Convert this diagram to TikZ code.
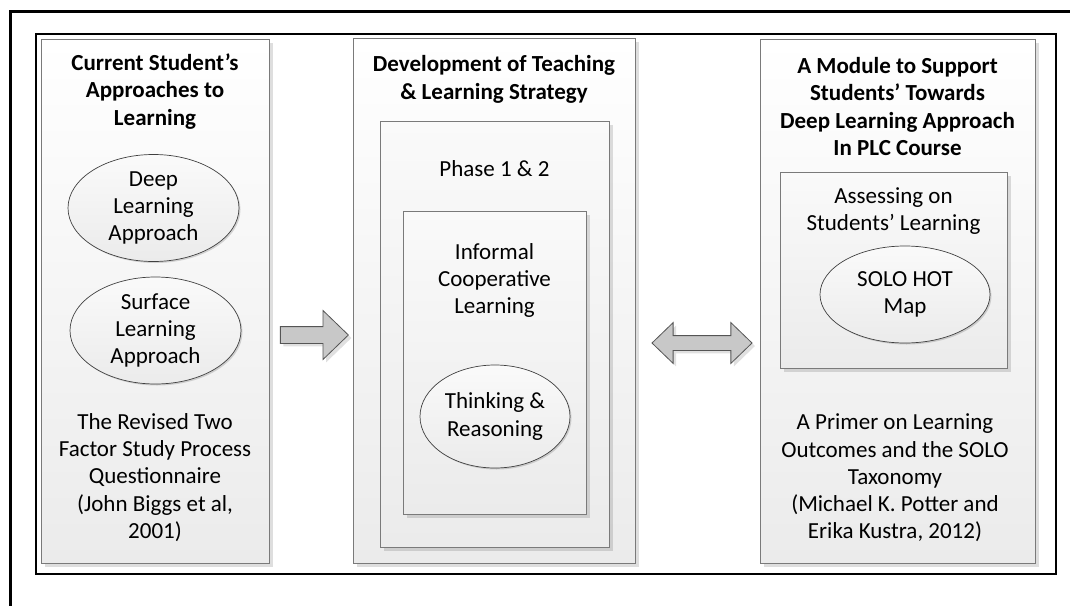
\documentclass[tikz,border=0pt]{standalone}
\usepackage{fontspec}
\setmainfont{Carlito}
\usetikzlibrary{shapes.geometric,shapes.arrows,shadows}
\definecolor{boxline}{HTML}{7A7A7A}
\definecolor{panelbot}{HTML}{EBEBEB}
\definecolor{arrowfill}{HTML}{C8C8C8}
\definecolor{arrowline}{HTML}{555555}
\tikzset{
  txt/.style={font=\fontsize{23}{27.3}\selectfont, align=center, inner sep=0pt, text=black},
  ttl/.style={txt, font=\fontsize{23}{27.3}\selectfont\bfseries},
  softshadow/.style={drop shadow={shadow xshift=3.5pt, shadow yshift=-3.5pt, fill=black, opacity=0.13}},
  panel/.style={draw=boxline, line width=0.9pt, top color=white, bottom color=panelbot, inner sep=0pt, softshadow},
  innerbox/.style={draw=boxline, line width=0.9pt, top color=white!98!black, bottom color=panelbot, inner sep=0pt, softshadow},
  oval/.style={ellipse, draw=black!75, line width=0.7pt, top color=white!98!black, bottom color=panelbot, inner sep=0pt, txt, drop shadow={shadow xshift=1.5pt, shadow yshift=-1.5pt, fill=black, opacity=0.15}},
  blockarrow/.style={draw=arrowline, line width=0.8pt, fill=arrowfill, inner sep=0pt, drop shadow={shadow xshift=3pt, shadow yshift=-3pt, fill=black, opacity=0.12}},
}
\begin{document}
\begin{tikzpicture}[x=1pt,y=-1pt]
  \useasboundingbox (0,0) rectangle (1070,605);
  % frames
  \draw[line width=3pt] (10,11) rectangle (1090,625);
  \draw[line width=2.5pt] (36,34) rectangle (1056,574);

  % left column
  \node[panel, minimum width=228pt, minimum height=524pt] (pleft) at (155,301) {};
  \node[ttl] (tleft) at (155,91.5) {Current Student’s\\Approaches to\\Learning};
  \node[oval, minimum width=171pt, minimum height=107pt] (deep) at (153.5,208) {Deep\\Learning\\Approach};
  \node[oval, minimum width=171pt, minimum height=107pt] (surf) at (155.5,330.5) {Surface\\Learning\\Approach};
  \node[txt] (bleft) at (155,477.5) {The Revised Two\\Factor Study Process\\Questionnaire\\(John Biggs et al,\\2001)};

  % middle column
  \node[panel, minimum width=282pt, minimum height=525pt] (pmid) at (494,300.5) {};
  \node[ttl] (tmid) at (494,79.5) {Development of Teaching\\\& Learning Strategy};
  \node[innerbox, minimum width=229pt, minimum height=426pt] (phase) at (494.5,334) {};
  \node[txt] (tphase) at (494.5,168.5) {Phase 1 \& 2};
  \node[innerbox, minimum width=183pt, minimum height=303pt] (icl) at (494.5,362.5) {};
  \node[txt] (ticl) at (494.5,280.5) {Informal\\Cooperative\\Learning};
  \node[oval, minimum width=150pt, minimum height=103pt] (think) at (495,416.5) {Thinking \&\\Reasoning};

  % right column
  \node[panel, minimum width=275pt, minimum height=524pt] (pright) at (897.5,301) {};
  \node[ttl] (tright) at (897.5,106.5) {A Module to Support\\Students’ Towards\\Deep Learning Approach\\In PLC Course};
  \node[innerbox, minimum width=227pt, minimum height=196pt] (assess) at (893.5,270) {};
  \node[txt] (tassess) at (893.5,211) {Assessing on\\Students’ Learning};
  \node[oval, minimum width=170pt, minimum height=97pt] (solo) at (905,294.5) {SOLO HOT\\Map};
  \node[txt] (bright) at (895,478) {A Primer on Learning\\Outcomes and the SOLO\\Taxonomy\\(Michael K. Potter and\\Erika Kustra, 2012)};

  % block arrows between the columns
  \node[blockarrow, single arrow, single arrow head extend=16pt, single arrow tip angle=88,
        minimum height=68pt, text height=8pt, text depth=8pt] (a1) at (310,335) {};
  \node[blockarrow, double arrow, double arrow head extend=13pt, double arrow tip angle=88,
        minimum height=100pt, text height=7pt, text depth=7pt] (a2) at (702,343) {};
\end{tikzpicture}
\end{document}
